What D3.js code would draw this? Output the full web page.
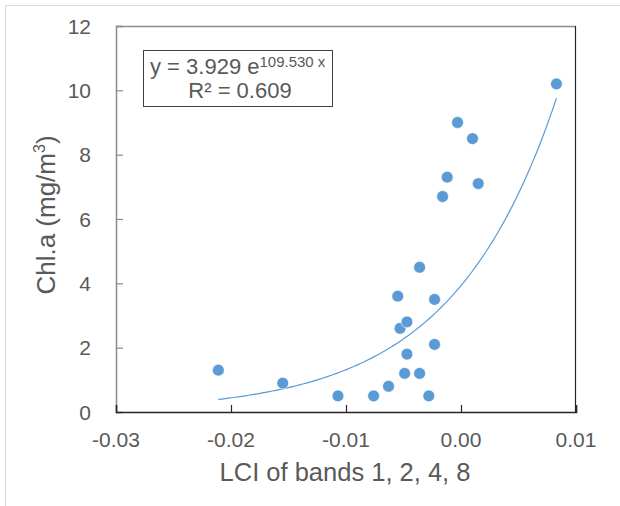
<!DOCTYPE html>
<html>
<head>
<meta charset="utf-8">
<script src="https://cdn.jsdelivr.net/npm/d3@7"></script>
<style>
  html, body { margin: 0; padding: 0; background: #fff; }
  svg { display: block; font-family: "Liberation Sans", Arial, sans-serif; }
</style>
</head>
<body>
<svg id="chart" width="620" height="506"></svg>
<script>
// LCI index of bands 1, 2, 4, 8 against measured chlorophyll-a
const lci = [-0.0211, -0.0155, -0.0107, -0.0076, -0.0063, -0.0049, -0.0036, -0.0028,
             -0.0047, -0.0023, -0.0053, -0.0047, -0.0055, -0.0023, -0.0036,
             -0.0016, -0.0012, 0.0015, -0.0003, 0.0010, 0.0083];
const chla = [1.3, 0.9, 0.5, 0.5, 0.8, 1.2, 1.2, 0.5,
              1.8, 2.1, 2.6, 2.8, 3.6, 3.5, 4.5,
              6.7, 7.3, 7.1, 9.0, 8.5, 10.2];

// exponential trendline y = a * e^(b x)
const fitA = 3.929;
const fitB = 109.530;
const fitR2 = 0.609;

const xTicks = [-0.03, -0.02, -0.01, 0.00, 0.01];
const yTicks = [0, 2, 4, 6, 8, 10, 12];

const svg = d3.select("#chart");
const textColor = "#595959";
const dotColor = "#5b9bd5";

const plot = { left: 116, right: 576, top: 26, bottom: 412 };

const x = d3.scaleLinear().domain([-0.03, 0.01]).range([plot.left, plot.right]);
const y = d3.scaleLinear().domain([0, 12]).range([plot.bottom, plot.top]);

// outer chart frame
svg.append("rect")
  .attr("x", 5.5).attr("y", 5.5)
  .attr("width", 700).attr("height", 600)
  .attr("fill", "#fff")
  .attr("stroke", "#d9d9d9");

// plot box: top and left in grey, bottom and right in dark
svg.append("line")
  .attr("x1", plot.left).attr("x2", plot.right)
  .attr("y1", plot.top + 0.5).attr("y2", plot.top + 0.5)
  .attr("stroke", "#8c8c8c").attr("stroke-width", 1.5);
svg.append("line")
  .attr("x1", plot.right - 0.5).attr("x2", plot.right - 0.5)
  .attr("y1", plot.top).attr("y2", plot.bottom)
  .attr("stroke", "#262626").attr("stroke-width", 1.2);

// y axis
const yAxis = svg.append("g")
  .attr("transform", `translate(${plot.left},0)`)
  .call(d3.axisRight(y).tickValues(yTicks).tickSize(7).tickFormat(""));
yAxis.select(".domain").attr("stroke", "#8c8c8c").attr("stroke-width", 1.5);
yAxis.selectAll(".tick line").attr("stroke", "#8c8c8c").attr("stroke-width", 1.2);

svg.append("g").selectAll("text")
  .data(yTicks)
  .join("text")
  .attr("x", 91)
  .attr("y", d => y(d))
  .attr("dy", "0.36em")
  .attr("text-anchor", "end")
  .attr("font-size", 21)
  .attr("fill", textColor)
  .text(d => d);

// x axis
const xAxis = svg.append("g")
  .attr("transform", `translate(0,${plot.bottom})`)
  .call(d3.axisTop(x).tickValues(xTicks).tickSize(7).tickFormat(""));
xAxis.select(".domain").attr("stroke", "#262626").attr("stroke-width", 1.5);
xAxis.selectAll(".tick line").attr("stroke", "#262626").attr("stroke-width", 1.2);

const fmtX = d3.format(".2f");
svg.append("g").selectAll("text")
  .data(xTicks)
  .join("text")
  .attr("x", d => x(d))
  .attr("y", 447)
  .attr("text-anchor", "middle")
  .attr("font-size", 21)
  .attr("fill", textColor)
  .text(d => fmtX(d).replace("\u2212", "-"));

// axis titles
svg.append("text")
  .attr("x", (plot.left + plot.right) / 2 - 1)
  .attr("y", 481)
  .attr("text-anchor", "middle")
  .attr("font-size", 25.5)
  .attr("fill", textColor)
  .text("LCI of bands 1, 2, 4, 8");

const yTitle = svg.append("text")
  .attr("transform", "translate(55,215) rotate(-90)")
  .attr("text-anchor", "middle")
  .attr("font-size", 26)
  .attr("fill", textColor);
yTitle.append("tspan").text("Chl.a (mg/m");
yTitle.append("tspan").attr("font-size", 16).attr("dy", "-0.6em").text("3");
yTitle.append("tspan").attr("dy", "0.38em").text(")");

// trendline across the range of the data
const xMin = d3.min(lci), xMax = d3.max(lci);
const fitX = d3.range(0, 101).map(i => xMin + (xMax - xMin) * i / 100);
svg.append("path")
  .datum(fitX)
  .attr("fill", "none")
  .attr("stroke", dotColor)
  .attr("stroke-width", 1.2)
  .attr("d", d3.line().x(d => x(d)).y(d => y(fitA * Math.exp(fitB * d))));

// observations
svg.append("g").selectAll("circle")
  .data(lci.map((v, i) => [v, chla[i]]))
  .join("circle")
  .attr("cx", d => x(d[0]))
  .attr("cy", d => y(d[1]))
  .attr("r", 5.9)
  .attr("fill", dotColor)
  .attr("stroke", "#fff")
  .attr("stroke-width", 0.6);

// equation box
const box = svg.append("g");
box.append("rect")
  .attr("x", 143.5).attr("y", 50.5)
  .attr("width", 189).attr("height", 56)
  .attr("fill", "#fff")
  .attr("stroke", "#404040")
  .attr("stroke-width", 1);

const eq = box.append("text")
  .attr("x", 150).attr("y", 74)
  .attr("font-size", 22)
  .attr("fill", textColor);
eq.append("tspan").text(`y = ${fitA.toFixed(3)} e`);
eq.append("tspan").attr("font-size", 15).attr("dy", "-0.5em")
  .text(`${fitB.toFixed(3)} x`);

box.append("text")
  .attr("x", 240).attr("y", 98)
  .attr("text-anchor", "middle")
  .attr("font-size", 22)
  .attr("fill", textColor)
  .text(`R² = ${fitR2.toFixed(3)}`);
</script>
</body>
</html>
